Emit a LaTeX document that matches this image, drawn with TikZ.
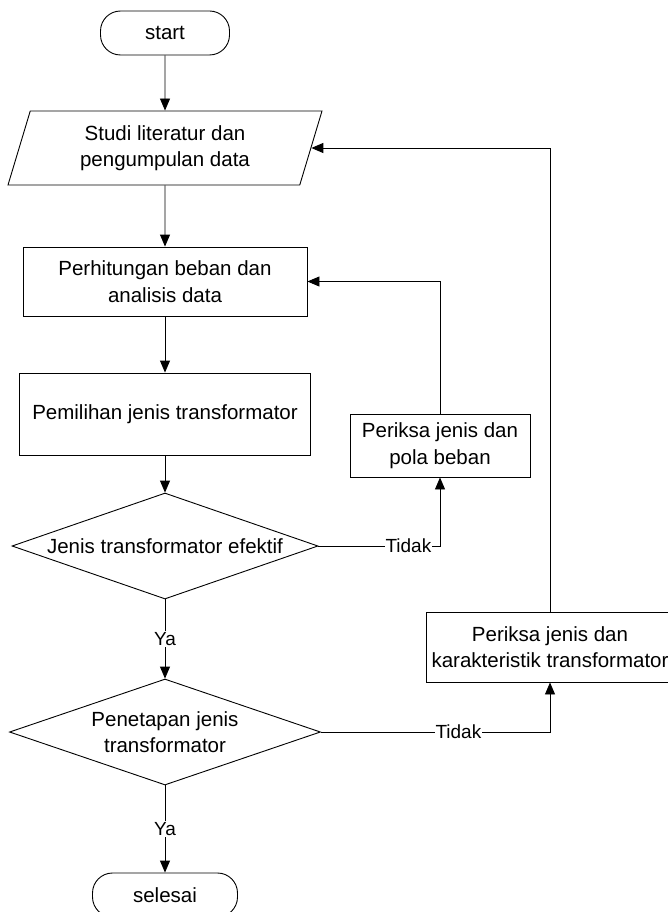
\documentclass[tikz,border=0pt]{standalone}
\usepackage{fontspec}
\setmainfont{Liberation Sans}
\usetikzlibrary{arrows.meta,shapes.geometric}

\begin{document}
\begin{tikzpicture}[x=1pt,y=-1pt,font=\fontsize{20.5}{26.5}\selectfont,
  term/.style={draw,line width=0.9pt,rounded corners=20pt,align=center,inner sep=0pt,minimum height=44pt},
  io/.style={trapezium,trapezium left angle=64,trapezium right angle=116,trapezium stretches body,draw,line width=0.9pt,align=center,inner sep=0pt,minimum height=74pt},
  proc/.style={rectangle,draw,line width=0.9pt,align=center,inner sep=0pt},
  dec/.style={diamond,draw,line width=0.9pt,align=center,inner sep=0pt,shape aspect=2.9},
  flow/.style={-{Triangle[length=12pt,width=10pt]},line width=0.9pt},
  lbl/.style={fill=white,inner sep=1pt,font=\fontsize{19}{22}\selectfont}]
  \useasboundingbox (0,0) rectangle (668,912);
  \fill[white] (0,0) rectangle (668,912);

  % ===== main column (x = 165) =====
  \node[term,minimum width=129pt] (start) at (165,33) {start};
  \node[io,minimum width=314pt] (data) at (165,148) {Studi literatur dan\\pengumpulan data};
  \node[proc,minimum width=284pt,minimum height=69pt] (calc) at (165,281.5) {Perhitungan beban dan\\analisis data};
  \node[proc,minimum width=291pt,minimum height=82pt] (select) at (165,414) {Pemilihan jenis transformator};
  \node[dec,minimum width=306pt,minimum height=106pt] (dec1) at (165,546) {Jenis transformator efektif};
  \node[dec,minimum width=311pt,minimum height=106pt] (dec2) at (165,732) {Penetapan jenis\\transformator};
  \node[term,minimum width=145pt] (finish) at (165,895) {selesai};

  % ===== check boxes (right) =====
  \node[proc,minimum width=180pt,minimum height=63pt] (chk1) at (440,445.5) {Periksa jenis dan\\pola beban};
  \node[proc,minimum width=248pt,minimum height=70pt] (chk2) at (550,647) {Periksa jenis dan\\karakteristik transformator};

  \draw[flow] (start.south) -- (data.north);
  \draw[flow] (data.south) -- (calc.north);
  \draw[flow] (calc.south) -- (select.north);
  \draw[flow] (select.south) -- (dec1.north);
  \draw[flow] (dec1.south) -- node[lbl]{Ya} (dec2.north);
  \draw[flow] (dec2.south) -- node[lbl]{Ya} (finish.north);

  % loops back
  \draw[flow] (dec1.east) -| node[lbl,pos=0.37]{Tidak} (chk1.south);
  \draw[flow] (chk1.north) |- (calc.east);
  \draw[flow] (dec2.east) -| node[lbl,pos=0.3]{Tidak} (chk2.south);
  \draw[flow] (chk2.north) |- (data.east);
\end{tikzpicture}
\end{document}
